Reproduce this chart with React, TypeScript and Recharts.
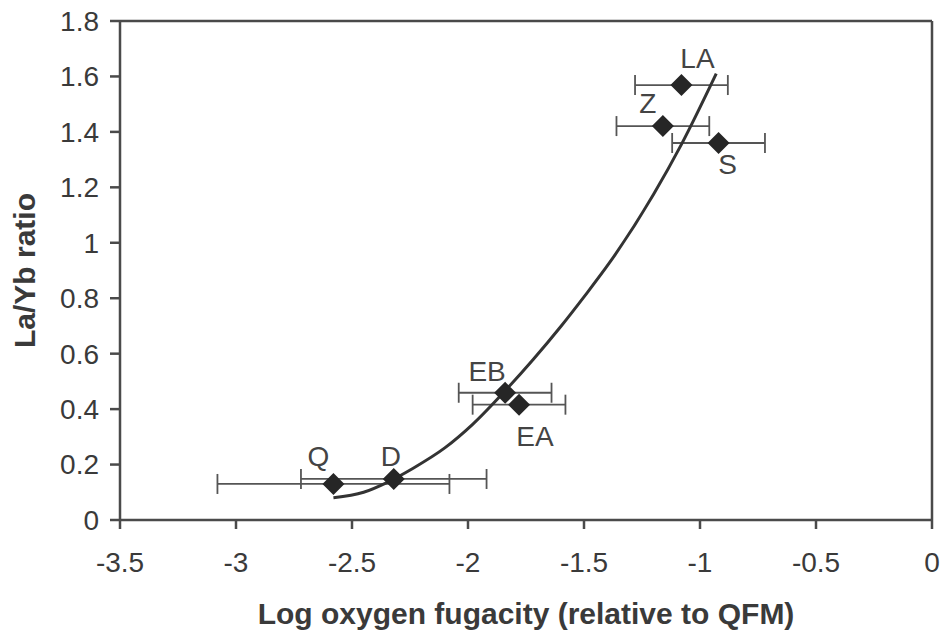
import {
  ComposedChart,
  Scatter,
  Line,
  XAxis,
  YAxis,
  ErrorBar,
  ReferenceLine,
} from "recharts";

const sampleNames = ["Q", "D", "EB", "EA", "Z", "LA", "S"];
const logFO2 = [-2.58, -2.32, -1.84, -1.78, -1.16, -1.08, -0.92];
const laYbRatio = [0.13, 0.148, 0.459, 0.416, 1.421, 1.569, 1.36];
const logFO2Err = [0.5, 0.4, 0.2, 0.2, 0.2, 0.2, 0.2];

// trend curve
const curveX = [-2.58, -2.45, -2.35, -2.24, -2.1, -1.98, -1.83, -1.72, -1.6, -1.5, -1.39, -1.2, -1.08, -0.93];
const curveY = [0.08, 0.1, 0.135, 0.185, 0.26, 0.345, 0.475, 0.578, 0.698, 0.805, 0.928, 1.175, 1.355, 1.61];

const xTicks = [-3.5, -3, -2.5, -2, -1.5, -1, -0.5, 0];
const yTicks = [0, 0.2, 0.4, 0.6, 0.8, 1, 1.2, 1.4, 1.6, 1.8];

const points = sampleNames.map((name, i) => ({
  name,
  x: logFO2[i],
  y: laYbRatio[i],
  err: logFO2Err[i],
}));

const curve = curveX.map((x, i) => ({ x, y: curveY[i] }));

// where each sample label sits relative to its marker
const labelOffsets: Record<string, [number, number]> = {
  Q: [-15, -27],
  D: [-3, -22],
  EB: [-18, -21],
  EA: [16, 32],
  Z: [-15, -23],
  LA: [16, -27],
  S: [9, 22],
};

const FONT = "'Liberation Sans', Arial, sans-serif";
const INK = "#3a3a3a";
const AXIS = "#4a4a4a";

function DiamondMarker(props: any) {
  const { cx, cy, payload } = props;
  if (cx == null || cy == null) return null;
  const r = 11;
  const [dx, dy] = labelOffsets[payload.name] ?? [0, -24];
  return (
    <g>
      <path
        d={`M${cx},${cy - r}L${cx + r},${cy}L${cx},${cy + r}L${cx - r},${cy}Z`}
        fill="#262626"
      />
      <text
        x={cx + dx}
        y={cy + dy}
        textAnchor="middle"
        dominantBaseline="central"
        fontSize={28}
        fontFamily={FONT}
        fill="#444"
      >
        {payload.name}
      </text>
    </g>
  );
}

function XTitle(props: any) {
  const { viewBox } = props;
  return (
    <text
      x={viewBox.x + viewBox.width / 2}
      y={viewBox.y + 104}
      textAnchor="middle"
      fontSize={30}
      fontWeight="bold"
      fontFamily={FONT}
      fill={INK}
    >
      Log oxygen fugacity (relative to QFM)
    </text>
  );
}

function YTitle(props: any) {
  const { viewBox } = props;
  const cx = viewBox.x + 24;
  const cy = viewBox.y + viewBox.height / 2;
  return (
    <text
      x={cx}
      y={cy}
      transform={`rotate(-90 ${cx} ${cy})`}
      textAnchor="middle"
      dominantBaseline="central"
      fontSize={30}
      fontWeight="bold"
      fontFamily={FONT}
      fill={INK}
    >
      La/Yb ratio
    </text>
  );
}

export default function App() {
  return (
    <div style={{ position: "absolute", left: 0, top: 0, background: "#fff" }}>
      <ComposedChart
        width={942}
        height={633}
        margin={{ top: 21, right: 10, left: 0, bottom: 0 }}
      >
        <XAxis
          type="number"
          dataKey="x"
          domain={[-3.5, 0]}
          ticks={xTicks}
          allowDataOverflow
          height={113}
          stroke={AXIS}
          strokeWidth={2.5}
          tickSize={9}
          tickMargin={23}
          tick={{ fontSize: 28, fontFamily: FONT, fill: INK }}
          label={{ value: "Log oxygen fugacity (relative to QFM)", content: XTitle }}
        />
        <YAxis
          type="number"
          dataKey="y"
          domain={[0, 1.8]}
          ticks={yTicks}
          allowDataOverflow
          width={120}
          stroke={AXIS}
          strokeWidth={2.5}
          tickSize={10}
          tickMargin={11}
          tick={{ fontSize: 28, fontFamily: FONT, fill: INK }}
          label={{ value: "La/Yb ratio", content: YTitle }}
        />
        <ReferenceLine y={1.8} stroke={AXIS} strokeWidth={2.5} />
        <ReferenceLine x={0} stroke={AXIS} strokeWidth={2.5} />
        <Scatter
          data={points}
          dataKey="y"
          shape={DiamondMarker}
          isAnimationActive={false}
        >
          <ErrorBar
            dataKey="err"
            direction="x"
            width={10}
            stroke="#555"
            strokeWidth={1.8}
            isAnimationActive={false}
          />
        </Scatter>
        <Line
          data={curve}
          dataKey="y"
          type="monotone"
          stroke="#333"
          strokeWidth={3}
          dot={false}
          activeDot={false}
          isAnimationActive={false}
        />
      </ComposedChart>
    </div>
  );
}
